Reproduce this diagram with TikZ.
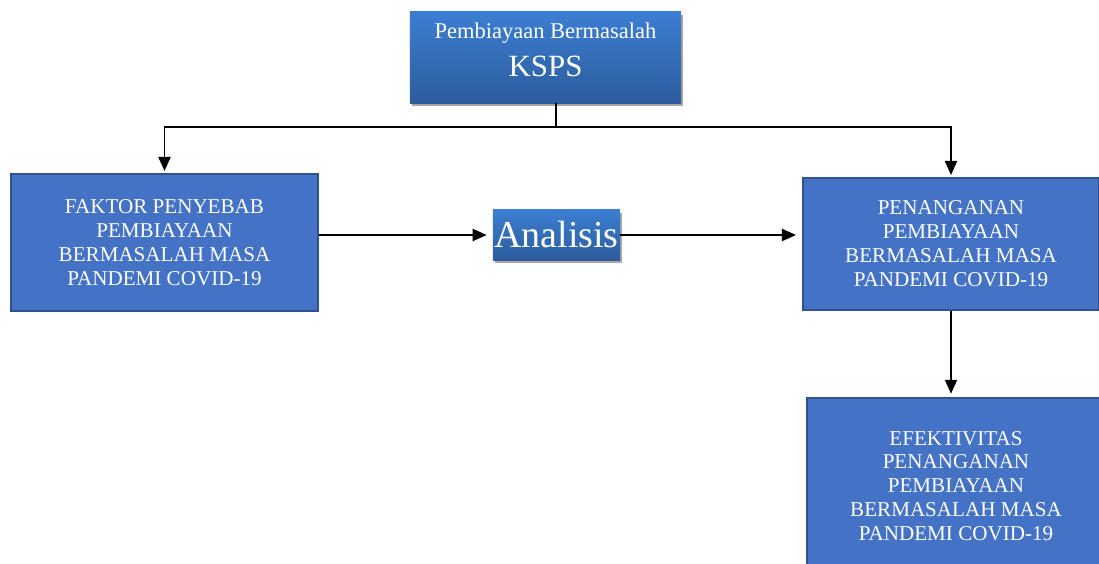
\documentclass[tikz,border=0pt]{standalone}
\usepackage{fontspec}
\setmainfont{Liberation Serif}
\usetikzlibrary{arrows.meta,shadows}
\definecolor{boxblue}{HTML}{4472C4}
\definecolor{boxedge}{HTML}{2F528F}
\definecolor{shadetop}{HTML}{3C7ED2}
\definecolor{shadebot}{HTML}{2C5C9C}

\begin{document}
\begin{tikzpicture}[
  x = 0.025cm, y = -0.025cm,
  box/.style = {draw = boxedge, fill = boxblue, line width = 1.4pt, text = white,
                align = center, inner sep = 0pt, font = \fontsize{15}{17}\selectfont},
  shadebox/.style = {top color = shadetop, bottom color = shadebot, draw = none,
                     text = white, inner sep = 0pt,
                     drop shadow = {shadow xshift = 0.06cm, shadow yshift = -0.08cm,
                                    opacity = 0.35, fill = black}},
  link/.style = {line width = 1.4pt},
  arrow/.style = {link, -{Triangle[length = 0.35cm, width = 0.3cm]}},
  ]
  \useasboundingbox (0,0) rectangle (1099,564);

  \node[shadebox, minimum width = 6.775cm, minimum height = 2.275cm] (ksps) at (545.5,57.5) {};
  \node[text = white, align = center, inner sep = 0pt] (kspstext) at (545.5,50)
    {\fontsize{16}{18}\selectfont Pembiayaan Bermasalah\\[8pt]
     \fontsize{22}{24}\selectfont KSPS};

  \node[box, minimum width = 7.675cm, minimum height = 3.425cm] (faktor) at (164.5,242.5)
    {FAKTOR PENYEBAB\\ PEMBIAYAAN\\ BERMASALAH MASA\\ PANDEMI COVID-19};
  \node[shadebox, minimum width = 3.175cm, minimum height = 1.25cm,
        font = \fontsize{27}{30}\selectfont] (analisis) at (556.5,235) {Analisis};
  \node[box, minimum width = 7.4cm, minimum height = 3.3cm] (penanganan) at (951,244)
    {PENANGANAN\\ PEMBIAYAAN\\ BERMASALAH MASA\\ PANDEMI COVID-19};
  \node[box, minimum width = 7.45cm, minimum height = 4.4cm] (efektivitas) at (956,486)
    {EFEKTIVITAS\\ PENANGANAN\\ PEMBIAYAAN\\ BERMASALAH MASA\\ PANDEMI COVID-19};

  % connectors
  \coordinate (split) at (556,127);
  \draw[link] (ksps.south -| split) -- (split);
  \draw[arrow, shorten > = 0.05cm] (split) -| (faktor.north);
  \draw[arrow, shorten > = 0.05cm] (split) -| (penanganan.north);
  \draw[arrow, shorten > = 0.15cm] (faktor.east |- analisis.west) -- (analisis.west);
  \draw[arrow, shorten > = 0.15cm] (analisis.east) -- (analisis.east -| penanganan.west);
  \draw[arrow, shorten > = 0.08cm] (penanganan.south) -- (penanganan.south |- efektivitas.north);
\end{tikzpicture}
\end{document}
